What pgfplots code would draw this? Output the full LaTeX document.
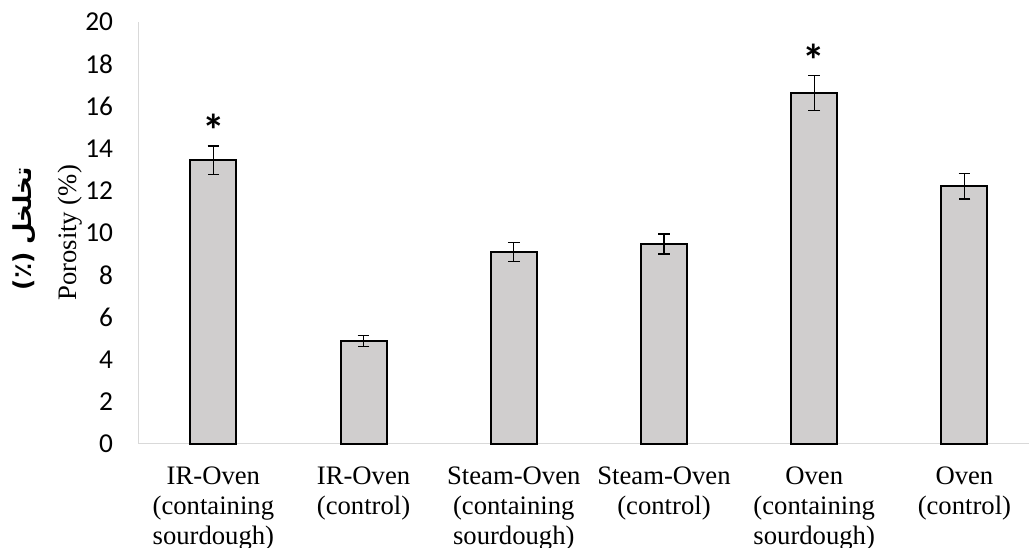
\documentclass[border=0pt]{standalone}
\usepackage{fontspec}
\setmainfont{Liberation Serif}
\newfontfamily\carlito{Carlito}
\newfontfamily\arabicfont[Script=Arabic]{DejaVu Sans}
\usepackage{pgfplots}
\usepackage{pgfplotstable}
\pgfplotsset{compat=1.18}
\TeXXeTstate=1
\definecolor{barfill}{RGB}{208,206,206}
\definecolor{axisgray}{RGB}{217,217,217}
\pgfplotstableread{
x y err
0 13.44 0.68
1 4.87 0.25
2 9.09 0.45
3 9.47 0.47
4 16.63 0.83
5 12.21 0.61
}\datatable
\begin{document}
\begin{tikzpicture}
\useasboundingbox (-103.7pt,-77.5pt) rectangle (668pt,332.8pt);
\begin{axis}[
 at={(0,0)}, anchor=south west,
 scale only axis, width=668pt, height=316.3pt,
 xmin=-0.5, xmax=5.43, ymin=0, ymax=20,
 axis x line*=bottom, axis y line*=left,
 axis line style={draw=axisgray, line width=0.75pt, -},
 xtick={0,1,2,3,4,5},
 xticklabels={{IR-Oven\\(containing\\sourdough)},{IR-Oven\\(control)},{Steam-Oven\\(containing\\sourdough)},{Steam-Oven\\(control)},{Oven\\(containing\\sourdough)},{Oven\\(control)}},
 ytick={0,2,...,20},
 major tick length=0pt,
 /pgf/number format/assume math mode=true,
 yticklabel style={font=\carlito\fontsize{20.5}{24}\selectfont, inner sep=0pt, xshift=-18.75pt, anchor=east},
 xticklabel style={font=\fontsize{20}{22.5}\selectfont, inner sep=0pt, yshift=-17.25pt, anchor=north, align=center},
 clip=false,
]
\addplot[ybar, bar width=0.307, fill=barfill, draw=black, line width=1.5pt,
  error bars/.cd, y dir=both, y explicit,
  error bar style={line width=1pt, draw=black},
  error mark options={rotate=90, mark size=4.4pt, line width=1pt, draw=black}]
  table[x=x, y=y, y error=err]{\datatable};
\node[font=\carlito\bfseries\fontsize{34}{34}\selectfont] at (axis cs:0,14.88) {*};
\node[font=\carlito\bfseries\fontsize{34}{34}\selectfont] at (axis cs:4,18.2) {*};
\node[rotate=90, anchor=base, font=\fontsize{20}{24}\selectfont] at ([xshift=-46.4pt]rel axis cs:0,0.5) {Porosity (\%)};
\node[rotate=90, anchor=base, font=\arabicfont\bfseries\fontsize{18.5}{22}\selectfont] at ([xshift=-80pt]rel axis cs:0,0.51) {(٪) \beginR تخلخل\endR};
\end{axis}
\end{tikzpicture}
\end{document}
